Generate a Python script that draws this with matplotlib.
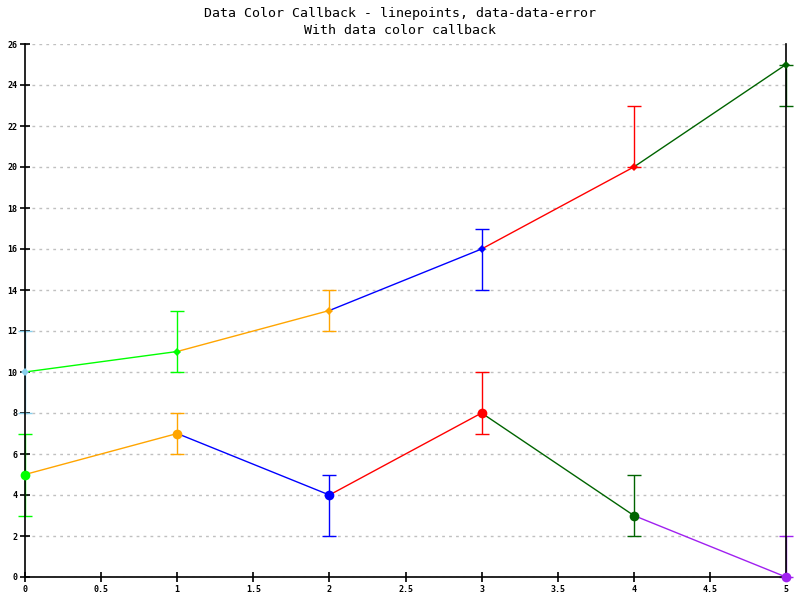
import matplotlib
matplotlib.use('Agg')
import matplotlib.pyplot as plt

# data
x = [0, 1, 2, 3, 4, 5]
y1 = [10, 11, 13, 16, 20, 25]
y1_plus = [2, 2, 1, 1, 3, 0]
y1_minus = [2, 1, 1, 2, 0, 2]
y2 = [5, 7, 4, 8, 3, 0]
y2_plus = [2, 1, 1, 2, 2, 2]
y2_minus = [2, 1, 2, 1, 1, 0]
palette = ['#87CEEB', '#00FF00', '#FFA500', '#0000FF', '#FF0000', '#006400', '#A020F0']
title = 'Data Color Callback - linepoints, data-data-error\nWith data color callback'

fig = plt.figure(figsize=(8, 6), dpi=100)
ax = fig.add_axes([25/800, 1-577/600, (786-25)/800, (577-44)/600])

def draw_series(ys, plus, minus, shift, marker, msize):
    for i in range(len(x)):
        col = palette[(i + shift) % len(palette)]
        # segment colored by the point it goes to
        if i > 0:
            ax.plot([x[i-1], x[i]], [ys[i-1], ys[i]], color=col, lw=1, zorder=3)
        ax.errorbar([x[i]], [ys[i]], yerr=[[minus[i]], [plus[i]]], fmt='none',
                    ecolor=col, elinewidth=1, capsize=5, capthick=1, zorder=4,
                    clip_on=False)
        ax.plot(x[i], ys[i], marker=marker, color=col, ms=msize, mew=0,
                zorder=11, clip_on=False)

draw_series(y1, y1_plus, y1_minus, 0, 'D', 4.5)
draw_series(y2, y2_plus, y2_minus, 1, 'o', 7)

ax.set_xlim(0, 5)
ax.set_ylim(0, 26)
ax.set_xticks([0, 0.5, 1, 1.5, 2, 2.5, 3, 3.5, 4, 4.5, 5])
ax.set_xticklabels(['0', '0.5', '1', '1.5', '2', '2.5', '3', '3.5', '4', '4.5', '5'])
ax.set_yticks(range(0, 27, 2))
ax.grid(axis='y', color='#C0C0C0', linestyle=(0, (2, 3)), lw=1)
ax.set_axisbelow(True)
ax.spines['top'].set_visible(False)
for s in ['left', 'bottom', 'right']:
    ax.spines[s].set_linewidth(1.2)
    ax.spines[s].set_zorder(10)
ax.tick_params(axis='both', direction='inout', length=7, width=1.2,
               labelsize=6, pad=2)
for lab in ax.get_xticklabels() + ax.get_yticklabels():
    lab.set_family('DejaVu Sans Mono')
    lab.set_fontweight('bold')

fig.text(0.5, 0.988, title, ha='center', va='top', family='DejaVu Sans Mono',
         fontsize=9.5, linespacing=1.35)

fig.savefig('out.png', dpi=100)
